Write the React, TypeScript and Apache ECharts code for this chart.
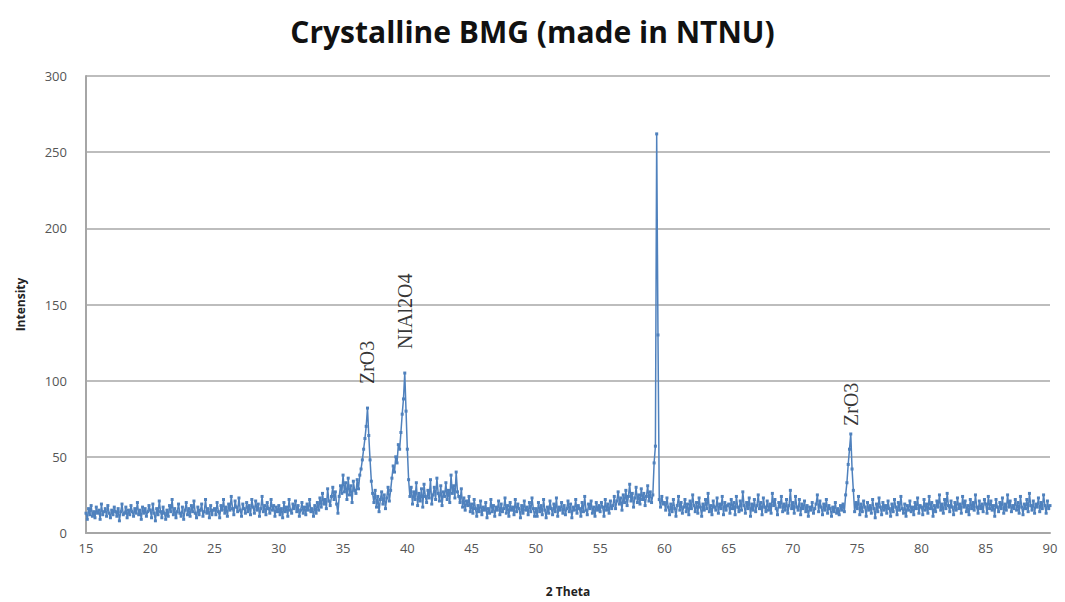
import React, { useEffect, useRef } from "react";
import * as echarts from "echarts";

// Scan grid: 2θ from 15° to 90° in 0.1° steps (50 readings per 5° block)
const scanStart = 15;
const scanStep = 0.1;

const intensity15to20 = [
  13, 9, 16, 12, 18, 11, 14, 10, 17, 13, 15, 9, 19, 12, 14, 16, 11, 18, 13, 10,
  15, 12, 17, 14, 11, 16, 8, 14, 19, 12, 13, 17, 10, 15, 12, 18, 14, 11, 16, 13,
  20, 12, 15, 9, 17, 13, 16, 11, 14, 18,
];
const intensity20to25 = [
  15, 10, 19, 13, 8, 16, 12, 21, 14, 10, 17, 13, 9, 15, 11, 18, 14, 22, 12, 16,
  10, 14, 19, 13, 11, 17, 9, 15, 20, 12, 16, 11, 18, 14, 21, 13, 10, 17, 12, 15,
  19, 11, 14, 22, 13, 16, 10, 18, 12, 15,
];
const intensity25to30 = [
  16, 12, 20, 14, 10, 18, 15, 22, 13, 17, 11, 19, 15, 24, 16, 12, 21, 17, 14, 23,
  15, 11, 19, 16, 13, 20, 14, 18, 12, 22, 17, 13, 21, 15, 19, 11, 16, 24, 14, 18,
  12, 20, 16, 13, 22, 15, 18, 11, 17, 14,
];
const intensity30to35 = [
  18, 12, 16, 10, 20, 14, 17, 11, 22, 15, 13, 19, 16, 21, 14, 18, 11, 15, 20, 13,
  17, 12, 19, 15, 22, 14, 16, 11, 18, 13, 20, 15, 23, 17, 26, 19, 22, 16, 29, 21,
  18, 24, 30, 22, 27, 19, 13, 24, 31, 26,
];
const intensity35to40 = [
  38, 27, 33, 22, 36, 25, 31, 20, 34, 28, 26, 35, 29, 38, 42, 48, 55, 62, 70, 82,
  64, 48, 34, 26, 20, 28, 17, 24, 14, 22, 27, 19, 25, 16, 23, 30, 21, 28, 36, 44,
  40, 50, 46, 58, 55, 66, 78, 88, 105, 80,
];
const intensity40to45 = [
  55, 35, 24, 30, 19, 27, 22, 33, 18, 26, 21, 29, 17, 32, 24, 20, 28, 23, 35, 19,
  25, 30, 22, 36, 26, 21, 31, 18, 27, 24, 33, 22, 28, 20, 38, 26, 31, 23, 40, 27,
  24, 20, 29, 17, 23, 15, 21, 18, 24, 14,
];
const intensity45to50 = [
  19, 13, 22, 16, 11, 18, 14, 21, 12, 17, 15, 20, 10, 16, 13, 22, 14, 18, 11, 17,
  15, 21, 12, 19, 14, 16, 23, 13, 18, 11, 20, 15, 17, 12, 22, 14, 19, 16, 10, 18,
  13, 21, 15, 17, 12, 20, 14, 23, 16, 11,
];
const intensity50to55 = [
  16, 11, 20, 14, 18, 12, 22, 15, 10, 17, 13, 21, 16, 12, 19, 14, 23, 11, 17, 15,
  20, 13, 18, 12, 16, 21, 14, 19, 10, 17, 15, 22, 13, 18, 16, 11, 20, 14, 24, 15,
  12, 19, 16, 21, 13, 17, 11, 20, 15, 18,
];
const intensity55to60 = [
  14, 20, 17, 11, 22, 15, 19, 13, 21, 16, 18, 24, 16, 21, 27, 19, 23, 15, 25, 20,
  28, 18, 24, 32, 21, 26, 17, 23, 30, 20, 25, 19, 29, 22, 26, 18, 24, 31, 21, 27,
  20, 25, 46, 57, 262, 130, 22, 17, 24, 19,
];
const intensity60to65 = [
  20, 15, 23, 17, 12, 19, 14, 22, 16, 11, 18, 24, 15, 20, 13, 17, 22, 14, 19, 12,
  21, 16, 25, 18, 14, 20, 13, 23, 17, 11, 19, 15, 22, 16, 26, 14, 18, 12, 21, 17,
  15, 23, 13, 19, 16, 24, 12, 20, 15, 18,
];
const intensity65to70 = [
  19, 13, 22, 16, 20, 12, 24, 17, 14, 21, 15, 27, 18, 13, 20, 16, 23, 11, 19, 15,
  22, 14, 18, 25, 16, 20, 12, 23, 17, 14, 21, 15, 19, 13, 26, 18, 22, 16, 12, 20,
  17, 24, 14, 19, 15, 22, 13, 18, 28, 16,
];
const intensity70to75 = [
  20, 13, 24, 17, 15, 22, 12, 19, 16, 21, 14, 18, 11, 17, 15, 20, 13, 16, 19, 25,
  14, 21, 17, 12, 19, 15, 22, 13, 18, 16, 11, 17, 14, 20, 13, 16, 12, 18, 15, 19,
  14, 25, 33, 45, 55, 65, 42, 28, 14, 20,
];
const intensity75to80 = [
  16, 24, 12, 19, 14, 21, 17, 11, 20, 15, 18, 13, 22, 16, 10, 19, 14, 23, 17, 12,
  20, 15, 18, 13, 21, 16, 11, 19, 14, 22, 17, 12, 20, 15, 24, 16, 13, 19, 11, 18,
  15, 21, 14, 17, 12, 20, 16, 23, 13, 18,
];
const intensity80to85 = [
  17, 12, 22, 15, 19, 13, 24, 16, 20, 11, 18, 14, 21, 17, 25, 15, 19, 13, 22, 16,
  26, 18, 14, 21, 17, 12, 20, 15, 23, 16, 19, 13, 24, 17, 21, 14, 18, 12, 22, 16,
  20, 15, 25, 17, 13, 21, 16, 19, 14, 22,
];
const intensity85to90 = [
  19, 13, 24, 16, 21, 15, 18, 11, 22, 17, 14, 20, 16, 23, 13, 19, 15, 25, 17, 21,
  14, 18, 16, 22, 15, 20, 13, 24, 17, 12, 19, 16, 22, 14, 26, 18, 15, 21, 13, 19,
  17, 23, 14, 20, 16, 25, 18, 13, 21, 16, 18,
];

const peakNames = ["ZrO3", "NIAl2O4", "ZrO3"];
const peakPositions = [36.9, 39.8, 74.5];

const xTicks = [15, 20, 25, 30, 35, 40, 45, 50, 55, 60, 65, 70, 75, 80, 85, 90];
const yTicks = [0, 50, 100, 150, 200, 250, 300];

const allIntensity = [
  ...intensity15to20, ...intensity20to25, ...intensity25to30, ...intensity30to35,
  ...intensity35to40, ...intensity40to45, ...intensity45to50, ...intensity50to55,
  ...intensity55to60, ...intensity60to65, ...intensity65to70, ...intensity70to75,
  ...intensity75to80, ...intensity80to85, ...intensity85to90,
];

const seriesData = allIntensity.map((v, i) => [
  Math.round((scanStart + i * scanStep) * 10) / 10,
  v,
]);

const labelGaps = [24, 24, 8];

export default function App() {
  const ref = useRef<HTMLDivElement>(null);
  useEffect(() => {
    if (!ref.current) return;
    const chart = echarts.init(ref.current, undefined, { renderer: "svg" });
    const annData = peakNames.map((name, k) => {
      const idx = Math.round((peakPositions[k] - scanStart) / scanStep);
      return {
        name,
        value: [seriesData[idx][0], seriesData[idx][1]],
        label: { position: [0, -labelGaps[k]] as any },
      };
    });
    chart.setOption({
      animation: false,
      backgroundColor: "#ffffff",
      title: {
        text: "Crystalline BMG (made in NTNU)",
        left: "center",
        top: 11,
        textStyle: {
          fontFamily: "Open Sans",
          fontWeight: "bold",
          fontSize: 30,
          color: "#111111",
        },
      },
      grid: { left: 86, right: 15, top: 76, bottom: 68 },
      xAxis: {
        type: "value",
        min: xTicks[0],
        max: xTicks[xTicks.length - 1],
        interval: 5,
        name: "2 Theta",
        nameLocation: "middle",
        nameGap: 52,
        nameTextStyle: { fontFamily: "Open Sans", fontWeight: "bold", fontSize: 12, color: "#222" },
        axisLine: { show: true, lineStyle: { color: "#a6a6a6", width: 2 } },
        axisTick: { show: false },
        splitLine: { show: false },
        axisLabel: { margin: 8, fontFamily: "Open Sans", fontSize: 13, color: "#555" },
      },
      yAxis: {
        type: "value",
        min: yTicks[0],
        max: yTicks[yTicks.length - 1],
        interval: 50,
        name: "Intensity",
        nameLocation: "middle",
        nameGap: 60,
        nameTextStyle: { fontFamily: "Open Sans", fontWeight: "bold", fontSize: 12, color: "#222" },
        axisLine: { show: true, lineStyle: { color: "#a6a6a6", width: 2 } },
        axisTick: { show: false },
        splitLine: { show: true, lineStyle: { color: "#bdbdbd", width: 2 } },
        axisLabel: { margin: 19, fontFamily: "Open Sans", fontSize: 13, color: "#555" },
      },
      series: [
        {
          type: "line",
          data: seriesData,
          symbol: "rect",
          symbolSize: 3,
          showSymbol: true,
          lineStyle: { color: "#4f81bd", width: 1.5 },
          itemStyle: { color: "#4f81bd" },
          z: 2,
        },
        {
          type: "scatter",
          data: annData,
          symbolSize: 0,
          silent: true,
          z: 5,
          label: {
            show: true,
            formatter: "{b}",
            rotate: 90,
            align: "left",
            verticalAlign: "middle",
            fontFamily: "Liberation Serif",
            fontSize: 20,
            color: "#000",
          },
        },
      ],
    });
    return () => chart.dispose();
  }, []);
  return <div ref={ref} style={{ width: 1065, height: 602, position: "absolute", left: 0, top: 0 }} />;
}
